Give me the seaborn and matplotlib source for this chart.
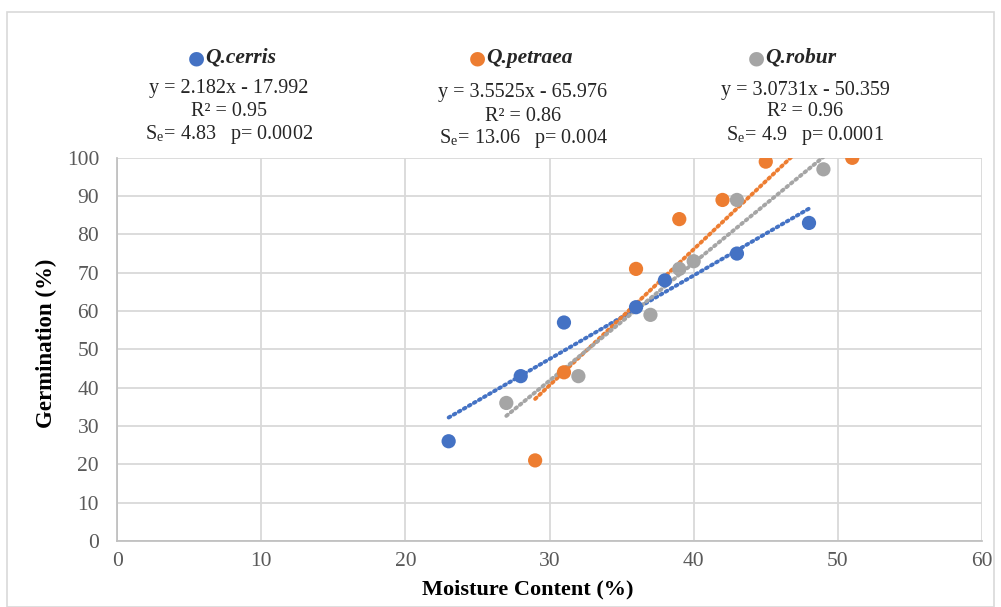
import numpy as np
import pandas as pd
import matplotlib.pyplot as plt
import matplotlib.patches as mpatches
import seaborn as sns

# data
cerris_x = [23, 28, 31, 36, 38, 43, 48]
cerris_y = [26, 43, 57, 61, 68, 75, 83]
petraea_x = [29, 31, 36, 39, 42, 45, 51]
petraea_y = [21, 44, 71, 84, 89, 99, 100]
robur_x = [27, 32, 37, 39, 40, 43, 49]
robur_y = [36, 43, 59, 71, 73, 89, 97]

species = ['Q.cerris', 'Q.petraea', 'Q.robur']
slopes = [2.182, 3.5525, 3.0731]
intercepts = [-17.992, -65.976, -50.359]
r2 = ['0.95', '0.86', '0.96']
se = ['4.83', '13.06', '4.9']
pvals = ['0.0002', '0.004', '0.0001']
x_ticks = [0, 10, 20, 30, 40, 50, 60]
y_ticks = [0, 10, 20, 30, 40, 50, 60, 70, 80, 90, 100]

colors = ['#4472C4', '#ED7D31', '#A5A5A5']

df = pd.DataFrame({
    'mc': cerris_x + petraea_x + robur_x,
    'germ': cerris_y + petraea_y + robur_y,
    'sp': [species[0]] * 7 + [species[1]] * 7 + [species[2]] * 7,
})

sns.set_theme(style='whitegrid')
plt.rcParams['font.family'] = ['Liberation Serif', 'DejaVu Serif']
plt.rcParams['mathtext.fontset'] = 'stix'

fig = plt.figure(figsize=(10.01, 6.07), dpi=100)
ax = fig.add_axes([0.117, 0.109, 0.864, 0.631])

# trend lines (Excel linear, dotted)
for xs, m, b, c in zip([cerris_x, petraea_x, robur_x], slopes, intercepts, colors):
    xx = np.array([min(xs), max(xs)])
    ax.plot(xx, m * xx + b, color=c, lw=2.8, ls=(0, (0.5, 1.0)),
            dash_capstyle='round', zorder=2)

sns.scatterplot(data=df, x='mc', y='germ', hue='sp', palette=colors,
                s=105, edgecolor='none', legend=False, ax=ax, zorder=3)

ax.set_xlim(0, 60)
ax.set_ylim(0, 100)
ax.set_xticks(x_ticks)
ax.set_yticks(y_ticks)
ax.grid(True, color='#d9d9d9', lw=1.3)
for s in ['top', 'right']:
    ax.spines[s].set_visible(False)
for s in ['left', 'bottom']:
    ax.spines[s].set_color('#bfbfbf')
ax.tick_params(axis='y', labelsize=15.5, colors='#595959', length=0, pad=13)
ax.tick_params(axis='x', labelsize=15.5, colors='#595959', length=0, pad=8)
ax.set_xlabel('Moisture Content (%)', fontsize=16, fontweight='bold',
              color='black')
ax.set_ylabel('Germination (%)', fontsize=16.5, fontweight='bold',
              color='black')
ax.xaxis.set_label_coords(0.475, -0.1)
ax.yaxis.set_label_coords(-0.069, 0.515)

# header blocks with equations
W, H = 1001, 607
heads = [(196, 58), (477, 58), (756, 58)]
centers = [(229, [88, 111, 134]), (523, [93, 116, 139]), (805, [90, 112, 136])]
for i in range(3):
    dx, dy = heads[i]
    fig.text(dx / W, 1 - dy / H, '\u25cf', color=colors[i], fontsize=14,
             ha='center', va='center', family='DejaVu Sans')
    fig.text((dx + 9) / W, 1 - dy / H, species[i], fontsize=15.5,
             fontweight='bold', style='italic', ha='left', va='center')
    cx, ys = centers[i]
    sign = '-' if intercepts[i] < 0 else '+'
    lines = [
        'y = %gx %s %g' % (slopes[i], sign, abs(intercepts[i])),
        'R\u00b2 = %s' % r2[i],
        'S$_\\mathregular{e}$= %s   p= %s' % (se[i], pvals[i]),
    ]
    for t, y in zip(lines, ys):
        fig.text(cx / W, 1 - y / H, t, fontsize=14.5, ha='center', va='center')

# outer frame
fig.patches.append(mpatches.Rectangle((7 / W, 0), (W - 14) / W, 1 - 12 / H,
                                      transform=fig.transFigure, fill=False,
                                      edgecolor='#d9d9d9', lw=1.2))

fig.savefig('out.png', dpi=100)
